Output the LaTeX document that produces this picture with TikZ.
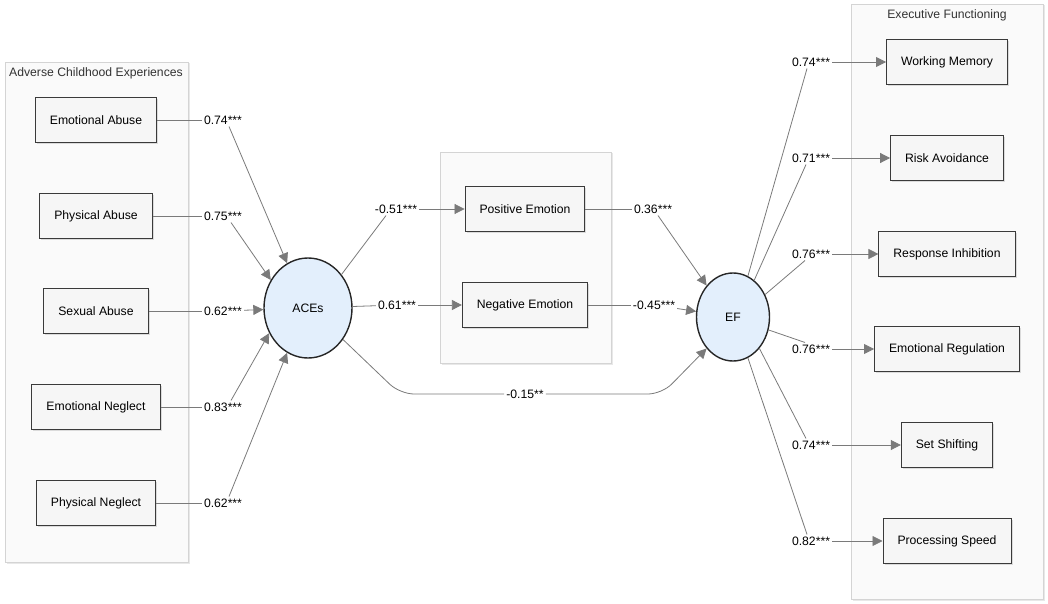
\documentclass[tikz,border=0pt]{standalone}
\usepackage{fontspec}
\setmainfont{Liberation Sans}
\usetikzlibrary{arrows.meta,shadows,shapes.geometric}
\definecolor{panelfill}{HTML}{FAFAFA}
\definecolor{panelline}{HTML}{D4D4D4}
\definecolor{boxfill}{HTML}{F6F6F6}
\definecolor{boxline}{HTML}{3A3A3A}
\definecolor{latfill}{HTML}{E3EFFC}
\definecolor{linegray}{HTML}{7A7A7A}
\definecolor{titlegray}{HTML}{333333}
\tikzset{
  panel/.style={draw=panelline, fill=panelfill, line width=0.8pt,
    drop shadow={shadow xshift=1.5pt, shadow yshift=-1.5pt, opacity=0.18}},
  obs/.style={draw=boxline, fill=boxfill, line width=1pt, inner xsep=14.5pt,
    minimum height=45pt, drop shadow={shadow xshift=1.5pt, shadow yshift=-1.5pt, opacity=0.25}},
  lat/.style={ellipse, draw=black!85, fill=latfill, line width=1.4pt, inner sep=0pt},
  coef/.style={inner sep=2pt},
  link/.style={draw=linegray, line width=0.8pt},
  load/.style={link, -{Triangle[length=10pt,width=10pt]}}
}
\begin{document}
\begin{tikzpicture}[x=1pt,y=-1pt,font=\fontsize{12.2}{14}\selectfont]
  \useasboundingbox (0,0) rectangle (1048,604);
  % panels
  \path[panel] (5,62) rectangle (188,562);
  \path[panel] (440,152) rectangle (611,363);
  \path[panel] (851,4) rectangle (1043,599);
  \node[text=titlegray] (acetitle) at (96,73) {Adverse Childhood Experiences};
  \node[text=titlegray] (eftitle) at (947,15) {Executive Functioning};

  % latent variables
  \node[lat, minimum width=88pt, minimum height=100pt] (aces) at (308,308) {ACEs};
  \node[lat, minimum width=73pt, minimum height=88pt] (ef) at (733,317) {EF};

  % ACE indicators
  \node[obs] (ea) at (96,120) {Emotional Abuse};
  \node[obs] (pa) at (96,216) {Physical Abuse};
  \node[obs] (sa) at (96,311) {Sexual Abuse};
  \node[obs] (en) at (96,407) {Emotional Neglect};
  \node[obs] (pn) at (96,503) {Physical Neglect};
  \node[coef] (lea) at (223,120) {0.74***};
  \node[coef] (lpa) at (223,216) {0.75***};
  \node[coef] (lsa) at (223,311) {0.62***};
  \node[coef] (len) at (223,407) {0.83***};
  \node[coef] (lpn) at (223,503) {0.62***};
  \draw[link] (ea) -- (lea);
  \draw[link] (pa) -- (lpa);
  \draw[link] (sa) -- (lsa);
  \draw[link] (en) -- (len);
  \draw[link] (pn) -- (lpn);
  \draw[load] (lea.south) ++(6,0) -- (aces.115);
  \draw[load] (lpa.south) ++(8,0) -- (aces.143);
  \draw[load] (lsa) -- (aces);
  \draw[load] (len.north) ++(8,0) -- (aces.213);
  \draw[load] (lpn.north) ++(6,0) -- (aces.245);

  % mediators
  \node[obs] (pe) at (525,209) {Positive Emotion};
  \node[obs] (ne) at (525,305) {Negative Emotion};
  \node[coef] (l51) at (396,209) {-0.51***};
  \node[coef] (l61) at (397,305) {0.61***};
  \node[coef] (l36) at (653,209) {0.36***};
  \node[coef] (l45) at (654,305) {-0.45***};
  \node[coef] (l15) at (525,394) {-0.15**};
  \draw[link] (aces.45) -- ([xshift=-10pt]l51.south);
  \draw[load] (l51) -- (pe);
  \draw[link] (aces) -- (l61);
  \draw[load] (l61) -- (ne);
  \draw[link] (pe) -- (l36);
  \draw[load] (l36.south) ++(5,0) -- (ef.130);
  \draw[link] (ne) -- (l45);
  \draw[load] (l45) -- (ef);
  \draw[link, rounded corners=14pt] (aces.-42) -- (400,394) -- (l15);
  \draw[load, rounded corners=14pt] (l15) -- (662,394) -- (ef.-130);

  % EF indicators
  \node[obs] (wm) at (947,62) {Working Memory};
  \node[obs] (ra) at (947,158) {Risk Avoidance};
  \node[obs] (ri) at (947,254) {Response Inhibition};
  \node[obs] (er) at (947,349) {Emotional Regulation};
  \node[obs] (ss) at (947,445) {Set Shifting};
  \node[obs] (ps) at (947,541) {Processing Speed};
  \node[coef] (lwm) at (811,62) {0.74***};
  \node[coef] (lra) at (811,158) {0.71***};
  \node[coef] (lri) at (811,254) {0.76***};
  \node[coef] (ler) at (811,349) {0.76***};
  \node[coef] (lss) at (811,445) {0.74***};
  \node[coef] (lps) at (811,541) {0.82***};
  \draw[link] (ef.70) -- ([xshift=-4pt]lwm.south);
  \draw[link] (ef.60) -- ([xshift=-5pt]lra.south);
  \draw[link] (ef.35) -- ([xshift=-6pt]lri.south);
  \draw[link] (ef.-20) -- ([xshift=-6pt]ler.north);
  \draw[link] (ef.-50) -- ([xshift=-5pt]lss.north);
  \draw[link] (ef.-70) -- ([xshift=-4pt]lps.north);
  \draw[load] (lwm) -- (wm);
  \draw[load] (lra) -- (ra);
  \draw[load] (lri) -- (ri);
  \draw[load] (ler) -- (er);
  \draw[load] (lss) -- (ss);
  \draw[load] (lps) -- (ps);
\end{tikzpicture}
\end{document}
